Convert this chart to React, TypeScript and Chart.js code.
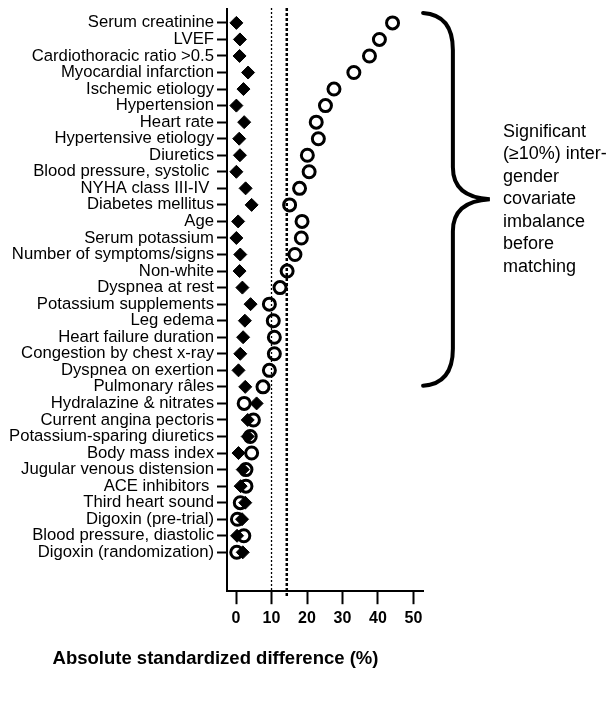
import { useEffect, useRef } from "react";
import { Chart, registerables } from "chart.js";

Chart.register(...registerables);

const covariates = [
  "Serum creatinine",
  "LVEF",
  "Cardiothoracic ratio >0.5",
  "Myocardial infarction",
  "Ischemic etiology",
  "Hypertension",
  "Heart rate",
  "Hypertensive etiology",
  "Diuretics",
  "Blood pressure, systolic ",
  "NYHA class III-IV ",
  "Diabetes mellitus",
  "Age",
  "Serum potassium",
  "Number of symptoms/signs",
  "Non-white",
  "Dyspnea at rest",
  "Potassium supplements",
  "Leg edema",
  "Heart failure duration",
  "Congestion by chest x-ray",
  "Dyspnea on exertion",
  "Pulmonary râles",
  "Hydralazine & nitrates",
  "Current angina pectoris",
  "Potassium-sparing diuretics",
  "Body mass index",
  "Jugular venous distension",
  "ACE inhibitors ",
  "Third heart sound",
  "Digoxin (pre-trial)",
  "Blood pressure, diastolic",
  "Digoxin (randomization)",
];

// Absolute standardized difference (%) before matching (open circles)
const beforeMatching = [
  44.1, 40.4, 37.6, 33.2, 27.6, 25.2, 22.6, 23.2, 20.1, 20.6, 17.9, 15.1, 18.6,
  18.4, 16.6, 14.4, 12.4, 9.4, 10.5, 10.8, 10.8, 9.4, 7.6, 2.3, 4.9, 4.0, 4.4,
  2.8, 2.8, 1.2, 0.4, 2.2, 0.2,
];

// Absolute standardized difference (%) after matching (filled diamonds)
const afterMatching = [
  0.1, 1.1, 1.0, 3.4, 2.1, 0.1, 2.3, 0.9, 1.1, 0.1, 2.7, 4.4, 0.6, 0.1, 1.2,
  1.0, 1.8, 4.1, 2.5, 2.0, 1.2, 0.7, 2.6, 5.8, 3.3, 3.3, 0.7, 1.9, 1.3, 2.6,
  1.7, 0.3, 1.9,
];

const xTicks = [0, 10, 20, 30, 40, 50];
const thresholdThin = 10;
const thresholdThick = 14.3;

const bracketLines = [
  "Significant",
  "(≥10%) inter-",
  "gender",
  "covariate",
  "imbalance",
  "before",
  "matching",
];

const FONT = "'Liberation Sans', Arial, Helvetica, sans-serif";

const bracePlugin = {
  id: "brace",
  afterDraw(chart: any) {
    const { ctx } = chart;
    const xs = chart.scales.x;
    const ys = chart.scales.y;
    const px = (v: number) => xs.getPixelForValue(v);
    const py = (v: number) => ys.getPixelForValue(v);
    const xEnd = px(52.7);
    const xMid = px(61.1);
    const xTip = px(71.5);
    const yTop = py(-0.6);
    const yTip = py(10.66);
    const yBot = py(21.93);
    ctx.save();
    ctx.strokeStyle = "#000";
    ctx.lineWidth = 4;
    ctx.lineCap = "round";
    ctx.beginPath();
    ctx.moveTo(xEnd, yTop);
    ctx.quadraticCurveTo(xMid, yTop + 2, xMid, yTop + 37);
    ctx.lineTo(xMid, yTip - 32);
    ctx.quadraticCurveTo(xMid, yTip - 2, xTip, yTip);
    ctx.quadraticCurveTo(xMid, yTip + 2, xMid, yTip + 32);
    ctx.lineTo(xMid, yBot - 37);
    ctx.quadraticCurveTo(xMid, yBot - 2, xEnd, yBot);
    ctx.stroke();

    ctx.fillStyle = "#000";
    ctx.font = `18px ${FONT}`;
    ctx.textAlign = "left";
    ctx.textBaseline = "middle";
    const tx = px(75.2);
    const lh = 22.5;
    const mid = (bracketLines.length - 1) / 2;
    bracketLines.forEach((t, i) => {
      ctx.fillText(t, tx, yTip + (i - mid) * lh);
    });
    ctx.restore();
  },
};

export default function App() {
  const ref = useRef<HTMLCanvasElement | null>(null);

  useEffect(() => {
    if (!ref.current) return;
    const chart = new Chart(ref.current, {
      type: "scatter",
      data: {
        datasets: [
          {
            label: "After matching",
            data: afterMatching.map((v, i) => ({ x: v, y: i })),
            pointStyle: "rectRot",
            pointRadius: 6.5,
            pointHoverRadius: 6.5,
            backgroundColor: "#000",
            borderColor: "#000",
            borderWidth: 1,
          },
          {
            label: "Before matching",
            data: beforeMatching.map((v, i) => ({ x: v, y: i })),
            pointStyle: "circle",
            pointRadius: 6,
            pointHoverRadius: 6,
            backgroundColor: "rgba(0,0,0,0)",
            borderColor: "#000",
            borderWidth: 3,
          },
          {
            label: "10% threshold",
            type: "line",
            data: [
              { x: thresholdThin, y: -0.9 },
              { x: thresholdThin, y: 34.35 },
            ],
            showLine: true,
            pointRadius: 0,
            borderColor: "#000",
            borderWidth: 1.3,
            borderDash: [2, 2],
            clip: false,
          } as any,
          {
            label: "Threshold",
            type: "line",
            data: [
              { x: thresholdThick, y: -0.9 },
              { x: thresholdThick, y: 34.65 },
            ],
            showLine: true,
            pointRadius: 0,
            borderColor: "#000",
            borderWidth: 2.5,
            borderDash: [3, 2],
            clip: false,
          } as any,
        ],
      },
      options: {
        responsive: false,
        animation: false,
        events: [],
        layout: {
          autoPadding: false,
          padding: { top: 0, left: 0, right: 183, bottom: 17.6 },
        },
        plugins: {
          legend: { display: false },
          tooltip: { enabled: false },
          title: {
            display: true,
            position: "bottom",
            text: "Absolute standardized difference (%)",
            color: "#000",
            font: { family: FONT, size: 18.5, weight: "bold" },
            padding: { top: 17, bottom: 10 },
          },
        },
        scales: {
          x: {
            type: "linear",
            min: -2.54,
            max: 52.68,
            afterBuildTicks: (s: any) => {
              s.ticks = xTicks.map((v) => ({ value: v }));
            },
            afterFit: (s: any) => {
              s.height = 40;
              s.paddingLeft = 0;
              s.paddingRight = 0;
              s.paddingTop = 0;
              s.paddingBottom = 0;
            },
            grid: {
              drawOnChartArea: false,
              drawTicks: true,
              tickLength: 13,
              tickWidth: 2,
              tickColor: "#000",
            },
            border: { display: true, color: "#000", width: 2 },
            ticks: {
              color: "#000",
              padding: 5,
              maxRotation: 0,
              autoSkip: false,
              font: { family: FONT, size: 16, weight: "bold" },
            },
          },
          y: {
            type: "linear",
            reverse: true,
            min: -0.9,
            max: 34.35,
            afterBuildTicks: (s: any) => {
              s.ticks = covariates.map((_, i) => ({ value: i }));
            },
            afterFit: (s: any) => {
              s.width = 219;
              s.paddingLeft = 0;
              s.paddingRight = 0;
              s.paddingTop = 0;
              s.paddingBottom = 0;
            },
            grid: {
              drawOnChartArea: false,
              drawTicks: true,
              tickLength: 10,
              tickWidth: 2,
              tickColor: "#000",
            },
            border: { display: true, color: "#000", width: 2 },
            ticks: {
              color: "#000",
              padding: 3,
              autoSkip: false,
              font: { family: FONT, size: 16.7 },
              callback: (v: any) => covariates[Number(v)] ?? "",
            },
          },
        },
      },
      plugins: [bracePlugin],
    });
    return () => chart.destroy();
  }, []);

  return (
    <canvas
      ref={ref}
      width={598}
      height={690}
      style={{ display: "block", width: "598px", height: "690px" }}
    />
  );
}
